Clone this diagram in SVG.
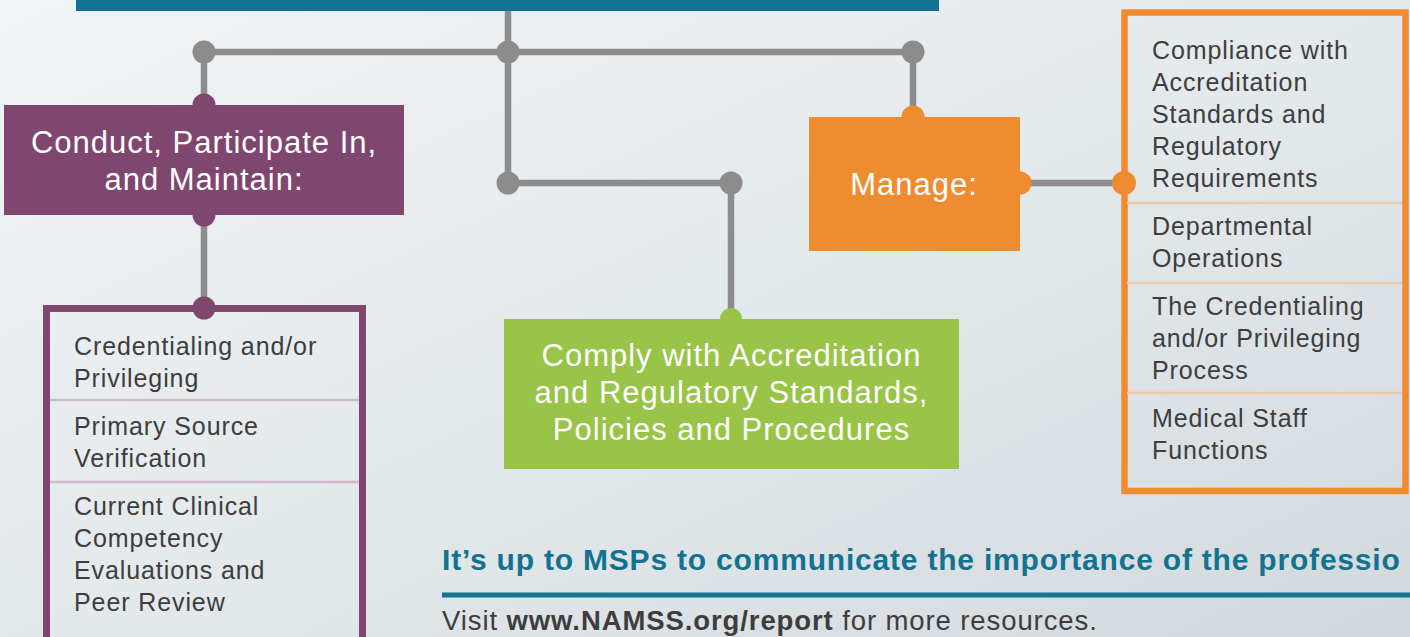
<svg xmlns="http://www.w3.org/2000/svg" width="1410" height="637" viewBox="0 0 1410 637">
<defs>
<linearGradient id="bg" x1="0" y1="0" x2="1" y2="1">
<stop offset="0" stop-color="#f1f4f6"/>
<stop offset="0.5" stop-color="#e4e9ec"/>
<stop offset="1" stop-color="#d2d8dc"/>
</linearGradient>
<style>
.conn{stroke:#8c8c8c;stroke-width:6.5;fill:none}
.gdot{fill:#8c8c8c}
.head{font-family:"Liberation Sans",Arial,sans-serif;font-size:31px;fill:#ffffff;letter-spacing:1px;text-anchor:middle}
.item{font-family:"Liberation Sans",Arial,sans-serif;font-size:25px;fill:#3d3d3d;letter-spacing:0.9px}
.sepP{stroke:#cdb9c9;stroke-width:2.5}
.sepO{stroke:#eacaa8;stroke-width:2.5}
</style>
</defs>
<rect width="1410" height="637" fill="url(#bg)"/>
<rect id="top-bar" x="76" y="-5" width="863" height="16" fill="#117391"/>

<g id="connectors">
<path class="conn" d="M508 11 V183 H731 V319"/>
<path class="conn" d="M204 52 H913 V117"/>
<path class="conn" d="M204 52 V105"/>
<path class="conn" d="M204 215 V308"/>
<path class="conn" d="M1020 183 H1124"/>
<circle class="gdot" cx="204" cy="52" r="11.5"/>
<circle class="gdot" cx="508" cy="52" r="11.5"/>
<circle class="gdot" cx="913" cy="52" r="11.5"/>
<circle class="gdot" cx="508" cy="183" r="11.5"/>
<circle class="gdot" cx="731" cy="183" r="11.5"/>
</g>

<g id="node-conduct">
<rect x="4" y="105" width="400" height="110" fill="#7f466f"/>
<circle cx="204" cy="105" r="11.5" fill="#7f466f"/>
<circle cx="204" cy="215" r="11.5" fill="#7f466f"/>
<text class="head" x="204" y="152.5">Conduct, Participate In,</text>
<text class="head" x="204" y="190">and Maintain:</text>
</g>

<g id="node-conduct-list">
<rect x="46.5" y="308.5" width="316" height="400" fill="none" stroke="#7f466f" stroke-width="7"/>
<circle cx="204" cy="308" r="11.5" fill="#7f466f"/>
<line class="sepP" x1="50" y1="400" x2="359" y2="400"/>
<line class="sepP" x1="50" y1="482" x2="359" y2="482"/>
<text class="item" x="74" y="355">Credentialing and/or</text>
<text class="item" x="74" y="387">Privileging</text>
<text class="item" x="74" y="435">Primary Source</text>
<text class="item" x="74" y="467">Verification</text>
<text class="item" x="74" y="515">Current Clinical</text>
<text class="item" x="74" y="547">Competency</text>
<text class="item" x="74" y="579">Evaluations and</text>
<text class="item" x="74" y="611">Peer Review</text>
</g>

<g id="node-comply">
<rect x="504" y="319" width="455" height="150" fill="#98c447"/>
<circle cx="731" cy="319" r="11" fill="#98c447"/>
<text class="head" x="731.5" y="366">Comply with Accreditation</text>
<text class="head" x="731.5" y="403">and Regulatory Standards,</text>
<text class="head" x="731.5" y="440">Policies and Procedures</text>
</g>

<g id="node-manage">
<rect x="809" y="117" width="211" height="134" fill="#ef8c31"/>
<circle cx="913" cy="117" r="11.5" fill="#ef8c31"/>
<circle cx="1020" cy="183" r="11.5" fill="#ef8c31"/>
<text class="head" x="914" y="195">Manage:</text>
</g>

<g id="node-manage-list">
<rect x="1124.5" y="12.5" width="281" height="478.5" fill="none" stroke="#ef8c31" stroke-width="6.5"/>
<circle cx="1124" cy="183" r="12" fill="#ef8c31"/>
<line class="sepO" x1="1127" y1="203" x2="1402" y2="203"/>
<line class="sepO" x1="1127" y1="283" x2="1402" y2="283"/>
<line class="sepO" x1="1127" y1="393" x2="1402" y2="393"/>
<text class="item" x="1152" y="59">Compliance with</text>
<text class="item" x="1152" y="91">Accreditation</text>
<text class="item" x="1152" y="123">Standards and</text>
<text class="item" x="1152" y="155">Regulatory</text>
<text class="item" x="1152" y="187">Requirements</text>
<text class="item" x="1152" y="235">Departmental</text>
<text class="item" x="1152" y="267">Operations</text>
<text class="item" x="1152" y="315">The Credentialing</text>
<text class="item" x="1152" y="347">and/or Privileging</text>
<text class="item" x="1152" y="379">Process</text>
<text class="item" x="1152" y="427">Medical Staff</text>
<text class="item" x="1152" y="459">Functions</text>
</g>

<g id="footer">
<text x="442" y="570" font-family="'Liberation Sans',Arial,sans-serif" font-size="30" font-weight="bold" fill="#127390" letter-spacing="0.8">It’s up to MSPs to communicate the importance of the professio</text>
<rect x="442" y="592.5" width="968" height="5" fill="#127592"/>
<text x="442" y="629.5" font-family="'Liberation Sans',Arial,sans-serif" font-size="27.5" fill="#3d3d3d" letter-spacing="0.9">Visit <tspan font-weight="bold">www.NAMSS.org/report</tspan> for more resources.</text>
</g>
</svg>
